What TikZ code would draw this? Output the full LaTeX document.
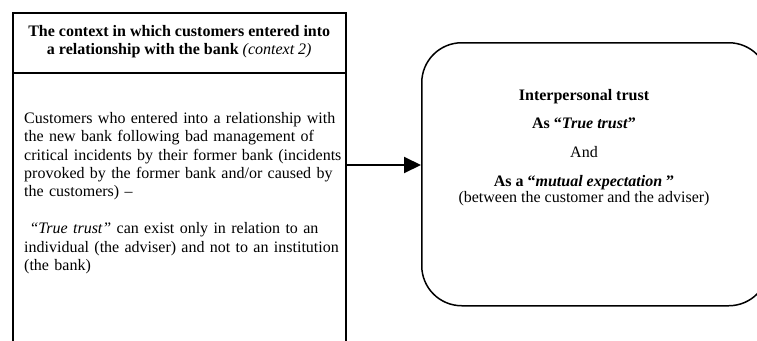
\documentclass[tikz,border=0pt]{standalone}
\usepackage{fontspec}
\setmainfont{Liberation Serif}
\usetikzlibrary{arrows.meta}
\begin{document}
\begin{tikzpicture}[x=1pt,y=1pt,
  boxline/.style={draw=black,line width=1.5pt},
  txt/.style={font=\fontsize{16}{18.4}\selectfont,inner sep=0pt}]
\useasboundingbox (0,0) rectangle (757,-340);
\clip (0,0) rectangle (757,-340);
\fill[white] (0,0) rectangle (757,-340);
% left column
\node[boxline,rectangle,minimum width=333,minimum height=60,anchor=north west,inner sep=0pt] (head) at (12,-12) {};
\node[boxline,rectangle,minimum width=333,minimum height=300,anchor=north west,inner sep=0pt] (body) at (12,-72) {};
\node[txt,align=center,font=\fontsize{16}{18}\selectfont\bfseries] (headtext) at ([yshift=1]head.center) {The context in which customers entered into\\a relationship with the bank \textmd{\itshape(context 2)}};
\node[txt,align=left,anchor=north west,text width=325] (bodytext) at (24,-112) {Customers who entered into a relationship with\\the new bank following bad management of\\critical incidents by their former bank (incidents\\provoked by the former bank and/or caused by\\the customers) --\\[18.4pt]
\ \textit{``True trust''} can exist only in relation to an\\individual (the adviser) and not to an institution\\(the bank)};
% right rounded box
\node[boxline,rectangle,rounded corners=40,minimum width=347,minimum height=263,anchor=north west,inner sep=0pt] (trustbox) at (421,-42) {};
\node[txt,align=center,anchor=north,font=\fontsize{16}{16}\selectfont] (trusttext) at (584,-89.5) {\textbf{Interpersonal trust}\\[12pt]
\textbf{As ``\textit{True trust}''}\\[13pt]
And\\[12.5pt]
\textbf{As a ``\textit{mutual expectation} ''}\\
(between the customer and the adviser)};
% arrow
\draw[line width=2pt,-{Triangle[length=17,width=16]}] (body.east |- 0,-165) -- (trustbox.west |- 0,-165);
\end{tikzpicture}
\end{document}
